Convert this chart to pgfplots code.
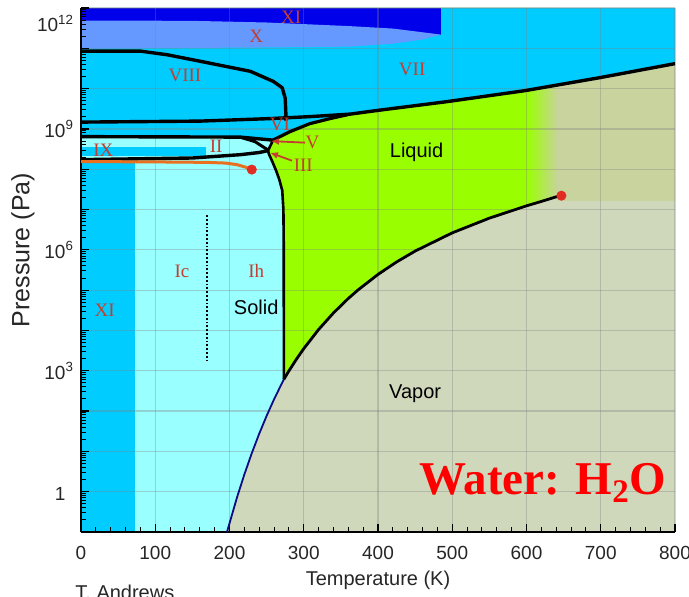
\documentclass[border=0pt]{standalone}
\usepackage{pgfplots}
\pgfplotsset{compat=1.18}
\usepackage{fontspec}
\setmainfont{Liberation Sans}
\newfontfamily\numeral{Liberation Serif}
\usetikzlibrary{arrows.meta}

\definecolor{vapor}{RGB}{208,216,188}
\definecolor{supercrit}{RGB}{200,211,158}
\definecolor{liquid}{RGB}{153,255,0}
\definecolor{iceI}{RGB}{153,255,255}
\definecolor{icehp}{RGB}{0,204,255}
\definecolor{iceX}{RGB}{102,153,255}
\definecolor{iceXIhp}{RGB}{0,0,235}
\definecolor{phaselab}{RGB}{196,62,48}
\definecolor{metastable}{RGB}{232,112,30}
\definecolor{cpred}{RGB}{225,45,35}
\definecolor{sublim}{RGB}{10,10,130}

\tikzset{
  phase/.style={font=\numeral\fontsize{9.5}{11}\selectfont, text=phaselab, inner sep=0pt},
  state/.style={font=\fontsize{10}{12}\selectfont, text=black, inner sep=0pt},
}

\begin{document}
\begin{tikzpicture}
\begin{axis}[
  set layers=standard,
  scale only axis, width=297pt, height=262pt,
  xmin=0, xmax=800, ymin=0.1, ymax=1e12, ymode=log,
  axis x line*=bottom, axis y line*=left,
  axis line style={black, line width=0.8pt, -},
  xtick={0,100,...,800},
  minor x tick num=4,
  ytick={1,10,100,1e3,1e4,1e5,1e6,1e7,1e8,1e9,1e10,1e11},
  yticklabels={1\phantom{\textsuperscript{3}},,,10\textsuperscript{3},,,10\textsuperscript{6},,,10\textsuperscript{9},,},
  minor ytick={0.2,0.3,0.4,0.5,0.6,0.7,0.8,0.9,
    2,3,4,5,6,7,8,9, 20,30,40,50,60,70,80,90,
    200,300,400,500,600,700,800,900,
    2e3,3e3,4e3,5e3,6e3,7e3,8e3,9e3, 2e4,3e4,4e4,5e4,6e4,7e4,8e4,9e4,
    2e5,3e5,4e5,5e5,6e5,7e5,8e5,9e5, 2e6,3e6,4e6,5e6,6e6,7e6,8e6,9e6,
    2e7,3e7,4e7,5e7,6e7,7e7,8e7,9e7, 2e8,3e8,4e8,5e8,6e8,7e8,8e8,9e8,
    2e9,3e9,4e9,5e9,6e9,7e9,8e9,9e9, 2e10,3e10,4e10,5e10,6e10,7e10,8e10,9e10,
    2e11,3e11,4e11,5e11,6e11,7e11,8e11,9e11},
  extra y ticks={1e12},
  extra y tick labels={10\textsuperscript{12}},
  extra y tick style={yticklabel style={anchor=north east}},
  /pgf/number format/assume math mode=true,
  tick label style={font=\fontsize{9.5}{11}\selectfont, text=black!85},
  xticklabel style={yshift=-3.5pt},
  label style={text=black!85},
  xlabel style={font=\fontsize{10}{12}\selectfont},
  ylabel style={font=\fontsize{12.5}{14}\selectfont},
  tick align=inside,
  major tick length=4pt, minor tick length=2.5pt,
  tick style={black, line width=0.6pt},
  minor tick style={black, line width=0.5pt},
  grid=major,
  grid style={draw=gray, opacity=0.35, line width=0.6pt},
  xlabel={Temperature (K)},
  ylabel={Pressure (Pa)},
  xlabel style={at={(axis description cs:0.5,-0.0916)}, anchor=center},
  ylabel style={at={(axis description cs:-0.0976,0.538)}, anchor=center},
]

% ---------- phase regions (background layer, under the grid) ----------
% vapour
\addplot[on layer=axis background, draw=none, fill=vapor]
  coordinates {(0,0.1) (800,0.1) (800,1e12) (0,1e12)} -- cycle;
% supercritical fluid
\addplot[on layer=axis background, draw=none, fill=supercrit]
  coordinates {(643,1.6e7) (800,1.6e7) (800,1e12) (643,1e12)} -- cycle;
% liquid
\addplot[on layer=axis background, draw=none, fill=liquid]
  coordinates {(273.16,611) (280,992) (290,1920) (300,3537) (320,10550)
    (340,27190) (360,62200) (373.15,101325) (400,245800) (425,500000)
    (450,932000) (500,2.64e6) (550,6.12e6) (600,1.235e7)
    (600,1e12) (245,1e12) (252,2.9e8) (253,2.4e8) (258,1.5e8) (263,9e7)
    (267,5.6e7) (271,3e7) (272.6,1e7) (273.1,1e6)} -- cycle;
% liquid -> supercritical fade
\addplot[on layer=axis background, draw=none, left color=liquid, right color=supercrit]
  coordinates {(600,1.235e7) (620,1.59e7) (643,2.15e7) (643,1e12) (600,1e12)} -- cycle;
% ice Ih / Ic / II / III / V
\addplot[on layer=axis background, draw=none, fill=iceI]
  coordinates {(0,0.1) (196.6,0.1) (200,0.164) (210,0.71) (220,2.68) (230,9.0)
    (240,27.4) (250,76.2) (260,196) (273.16,611)
    (273.1,1e6) (272.6,1e7) (271,3e7) (267,5.6e7) (263,9e7) (258,1.5e8)
    (253,2.4e8) (252,2.9e8) (258.6,5.27e8) (214.1,6.27e8) (0,6.44e8)} -- cycle;
% ice VI / VII / VIII
\addplot[on layer=axis background, draw=none, fill=icehp]
  coordinates {(0,1e12) (800,1e12) (800,4.169e10) (699,1.875e10) (598,8.913e9)
    (492.9,4.753e9) (402.7,2.931e9) (362.3,2.328e9) (335.4,1.803e9)
    (308.4,1.355e9) (281.5,8.57e8) (258.6,5.27e8) (214.1,6.27e8) (0,6.44e8)} -- cycle;
% ice XI (low temperature)
\addplot[on layer=axis background, draw=none, fill=icehp]
  coordinates {(0,0.1) (72.7,0.1) (72.7,1.55e8) (0,1.55e8)} -- cycle;
% ice IX
\addplot[on layer=axis background, draw=none, fill=icehp]
  coordinates {(0,2.17e8) (168.4,2.17e8) (168.4,3.64e8) (0,3.64e8)} -- cycle;
% ice XI (high pressure)
\addplot[on layer=axis background, draw=none, fill=iceXIhp]
  coordinates {(0,2.19e11) (485,2.19e11) (485,1e12) (0,1e12)} -- cycle;
% ice X
\addplot[on layer=axis background, draw=none, fill=iceX]
  coordinates {(0,4.9e11) (150,4.8e11) (250,4.37e11) (362,3.55e11) (420,3.09e11)
    (460,2.5e11) (485,2.19e11) (460,1.65e11) (420,1.3e11) (362,1.1e11)
    (250,1.05e11) (0,9.8e10)} -- cycle;

% ---------- phase boundaries ----------
% VII/VIII
\addplot[black, line width=1.7pt, line join=round]
  coordinates {(0,8.51e10) (80,8.51e10) (116,6.92e10) (160,4.79e10) (228,2.69e10)
    (259,1.51e10) (271,1.05e10) (275,5.75e9) (276,2.19e9) (276,1.6e9)};
% VI/VIII and VII melting line
\addplot[black, line width=1.7pt, line join=round]
  coordinates {(0,1.476e9) (160.3,1.563e9) (254.5,1.803e9) (308.1,2.018e9)
    (362.3,2.328e9) (402.7,2.931e9) (492.9,4.753e9) (598,8.913e9)
    (699,1.875e10) (800,4.169e10)};
% VI melting line
\addplot[black, line width=1.6pt, line join=round]
  coordinates {(258.6,5.27e8) (281.5,8.57e8) (308.4,1.355e9) (335.4,1.803e9) (362.3,2.328e9)};
% II/VI
\addplot[black, line width=1.7pt, line join=round]
  coordinates {(0,6.44e8) (214.1,6.27e8) (258.6,5.27e8)};
% II/V
\addplot[black, line width=1.5pt, line join=round]
  coordinates {(214.1,6.27e8) (234.3,4.84e8) (251.9,3.0e8)};
% Ih/II and II/III
\addplot[black, line width=1.7pt, line join=round]
  coordinates {(0,1.73e8) (150,1.9e8) (215,2.3e8) (240,2.6e8) (252,2.9e8)};
% V melting
\addplot[black, line width=1.3pt]
  coordinates {(252,2.9e8) (258.6,5.27e8)};
% Ih melting line
\addplot[black, line width=1.3pt, line join=round]
  coordinates {(273.16,611) (273.1,1e6) (272.6,1e7) (271,3e7) (267,5.6e7)
    (263,9e7) (258,1.5e8) (253,2.4e8) (252,2.9e8)};
% vaporization line
\addplot[black, line width=1.4pt, line join=round]
  coordinates {(273.16,611) (280,992) (290,1920) (300,3537) (320,10550)
    (340,27190) (360,62200) (373.15,101325) (400,245800) (425,500000)
    (450,932000) (500,2.64e6) (550,6.12e6) (600,1.235e7) (620,1.59e7)
    (643,2.15e7) (647,2.206e7)};
% sublimation line
\addplot[sublim, line width=0.9pt, line join=round]
  coordinates {(196.6,0.1) (200,0.164) (210,0.71) (220,2.68) (230,9.0)
    (240,27.4) (250,76.2) (260,196) (273.16,611)};
% metastable line ending in a critical point
\addplot[metastable, line width=1.5pt, line join=round]
  coordinates {(0,1.55e8) (100,1.52e8) (170,1.48e8) (195,1.42e8) (210,1.3e8)
    (222,1.12e8) (230,9.8e7)};
% Ic / Ih divide
\addplot[black, densely dotted, line width=0.9pt]
  coordinates {(170,1.7e3) (170,7.4e6)};
% critical points
\addplot[only marks, mark=*, mark size=2.3pt, cpred] coordinates {(230,9.8e7)};
\addplot[only marks, mark=*, mark size=2.3pt, cpred] coordinates {(647,2.206e7)};

% pointers to the small phases
\addplot[phaselab, line width=0.9pt, -{Latex[length=4pt,width=3.5pt]}]
  coordinates {(301.7,4.57e8) (255.9,4.98e8)};
\addplot[phaselab, line width=0.9pt, -{Latex[length=4pt,width=3.5pt]}]
  coordinates {(284.2,1.63e8) (254.5,2.58e8)};

% ---------- labels ----------
\node[phase] at (axis cs:283,5.8e11) {XI};
\node[phase] at (axis cs:236,1.95e11) {X};
\node[phase] at (axis cs:140,2.1e10) {VIII};
\node[phase] at (axis cs:446,2.95e10) {VII};
\node[phase] at (axis cs:268,1.28e9) {VI};
\node[phase, anchor=west] at (axis cs:302,4.57e8) {V};
\node[phase, anchor=west] at (axis cs:286,1.23e8) {III};
\node[phase] at (axis cs:182,3.63e8) {II};
\node[phase] at (axis cs:30,2.89e8) {IX};
\node[phase] at (axis cs:136,3.0e5) {Ic};
\node[phase] at (axis cs:236,3.0e5) {Ih};
\node[phase] at (axis cs:32,3.1e4) {XI};
\node[state] at (axis cs:236,3.68e4) {Solid};
\node[state] at (axis cs:452,2.59e8) {Liquid};
\node[state] at (axis cs:450,270) {Vapor};
\node[anchor=base east, inner sep=0pt, text=red,
      font=\numeral\bfseries\fontsize{23.5}{26}\selectfont]
  at (axis cs:789,0.84) {Water: H\textsubscript{2}O};
\end{axis}
\node[anchor=north west, inner sep=0pt, font=\fontsize{10}{12}\selectfont, text=black!85]
  at (-3pt,-26.5pt) {T. Andrews};
% page frame
\pgfresetboundingbox
\useasboundingbox (-40.5pt,-32pt) rectangle (304pt,266pt);
\end{tikzpicture}
\end{document}
